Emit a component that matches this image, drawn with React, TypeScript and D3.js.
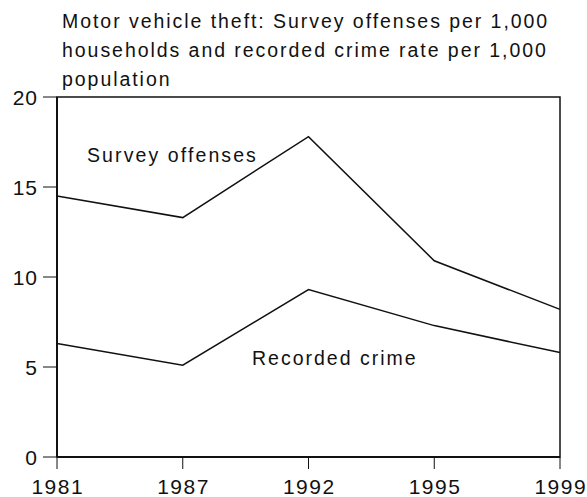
import React from "react";
import * as d3 from "d3";

const years = ["1981", "1987", "1992", "1995", "1999"];
const surveyOffenses = [14.5, 13.3, 17.8, 10.9, 8.2];
const recordedCrime = [6.3, 5.1, 9.3, 7.3, 5.8];
const yTicks = [0, 5, 10, 15, 20];
const titleLines = [
  "Motor vehicle theft: Survey offenses per 1,000",
  "households and recorded crime rate per 1,000",
  "population",
];

const W = 587;
const H = 497;
const M = { left: 57, right: 27, top: 97, bottom: 40 };
const FONT = "'Liberation Sans', Arial, Helvetica, sans-serif";

export default function App() {
  const x = d3.scalePoint<string>().domain(years).range([M.left, W - M.right]);
  const y = d3.scaleLinear().domain([0, 20]).range([H - M.bottom, M.top]);
  const line = d3
    .line<number>()
    .x((_, i) => x(years[i]) as number)
    .y((d) => y(d));

  return (
    <svg
      width={W}
      height={H}
      style={{ position: "absolute", left: 0, top: 0, background: "#fff" }}
      fontFamily={FONT}
    >
      {titleLines.map((t, i) => (
        <text key={i} x={62} y={28.3 + i * 29} fontSize={19.5} letterSpacing={1.95} fill="#111">
          {t}
        </text>
      ))}
      {/* frame */}
      <rect
        x={M.left}
        y={M.top}
        width={W - M.right - M.left}
        height={H - M.bottom - M.top}
        fill="none"
        stroke="#111"
        strokeWidth={1.5}
      />
      <line x1={M.left} x2={M.left} y1={M.top} y2={H - M.bottom} stroke="#111" strokeWidth={2} />
      <line x1={M.left} x2={W - M.right} y1={H - M.bottom} y2={H - M.bottom} stroke="#111" strokeWidth={2} />
      {/* y ticks */}
      {yTicks.map((t) => (
        <g key={t}>
          <line x1={M.left - 14} x2={M.left} y1={y(t)} y2={y(t)} stroke="#111" strokeWidth={1} />
          <text x={M.left - 19} y={y(t)} dy="0.36em" textAnchor="end" fontSize={21} letterSpacing={1} fill="#111">
            {t}
          </text>
        </g>
      ))}
      {/* x ticks */}
      {years.map((yr) => (
        <g key={yr}>
          <line
            x1={x(yr) as number}
            x2={x(yr) as number}
            y1={H - M.bottom}
            y2={H - M.bottom + 12}
            stroke="#111"
            strokeWidth={1}
          />
          <text
            x={(x(yr) as number) + 0.75}
            y={H - M.bottom + 37}
            textAnchor="middle"
            fontSize={21}
            letterSpacing={1.5}
            fill="#111"
          >
            {yr}
          </text>
        </g>
      ))}
      <path d={line(surveyOffenses) || ""} fill="none" stroke="#111" strokeWidth={1.5} />
      <path d={line(recordedCrime) || ""} fill="none" stroke="#111" strokeWidth={1.5} />
      <text x={87} y={162} fontSize={19.5} letterSpacing={2.1} fill="#111">
        Survey offenses
      </text>
      <text x={252} y={365} fontSize={19.5} letterSpacing={2} fill="#111">
        Recorded crime
      </text>
    </svg>
  );
}
